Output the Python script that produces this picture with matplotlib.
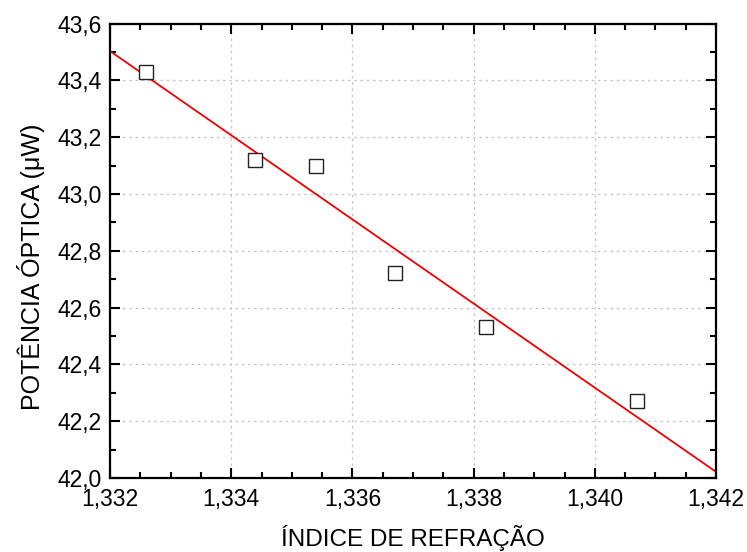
import matplotlib
matplotlib.use('Agg')
import matplotlib.pyplot as plt
from matplotlib.ticker import FuncFormatter, MultipleLocator, AutoMinorLocator

plt.rcParams['font.family'] = ['Liberation Sans', 'DejaVu Sans']

# measured points
indice = [1.3326, 1.3344, 1.3354, 1.3367, 1.3382, 1.3407]
potencia = [43.43, 43.12, 43.10, 42.72, 42.53, 42.27]

# fitted line ends
fit_x = [1.332, 1.342]
fit_y = [43.503, 42.022]


def comma(fmt):
    return FuncFormatter(lambda v, p: (fmt % v).replace('.', ','))


fig = plt.figure(figsize=(7.47, 5.52), dpi=100)
ax = fig.add_axes([0.1473, 0.134, 0.8112, 0.8234])

ax.plot(fit_x, fit_y, color='#ee0000', lw=1.3, zorder=2)
ax.plot(indice, potencia, ls='none', marker='s', ms=10, mfc='white',
        mec='#222222', mew=1.0, zorder=3)

ax.set_xlim(1.332, 1.342)
ax.set_ylim(42.0, 43.6)
ax.xaxis.set_major_locator(MultipleLocator(0.002))
ax.xaxis.set_minor_locator(AutoMinorLocator(4))
ax.yaxis.set_major_locator(MultipleLocator(0.2))
ax.yaxis.set_minor_locator(AutoMinorLocator(2))
ax.xaxis.set_major_formatter(comma('%.3f'))
ax.yaxis.set_major_formatter(comma('%.1f'))

ax.grid(True, which='major', ls=(0, (2, 3)), color='#c4c4c4', lw=0.9)
ax.tick_params(which='both', direction='in', top=True, right=True, width=1.5,
               labelsize=16.5)
ax.tick_params(axis='x', pad=7)
ax.tick_params(axis='y', pad=6)
ax.tick_params(which='major', length=7)
ax.tick_params(which='minor', length=4)
for s in ax.spines.values():
    s.set_linewidth(1.6)

ax.set_xlabel('ÍNDICE DE REFRAÇÃO', fontsize=17.5, labelpad=10)
ax.set_ylabel('POTÊNCIA ÓPTICA (\u03bcW)', fontsize=18)
ax.yaxis.set_label_coords(-0.108, 0.465)

fig.savefig('out.png', dpi=100)
